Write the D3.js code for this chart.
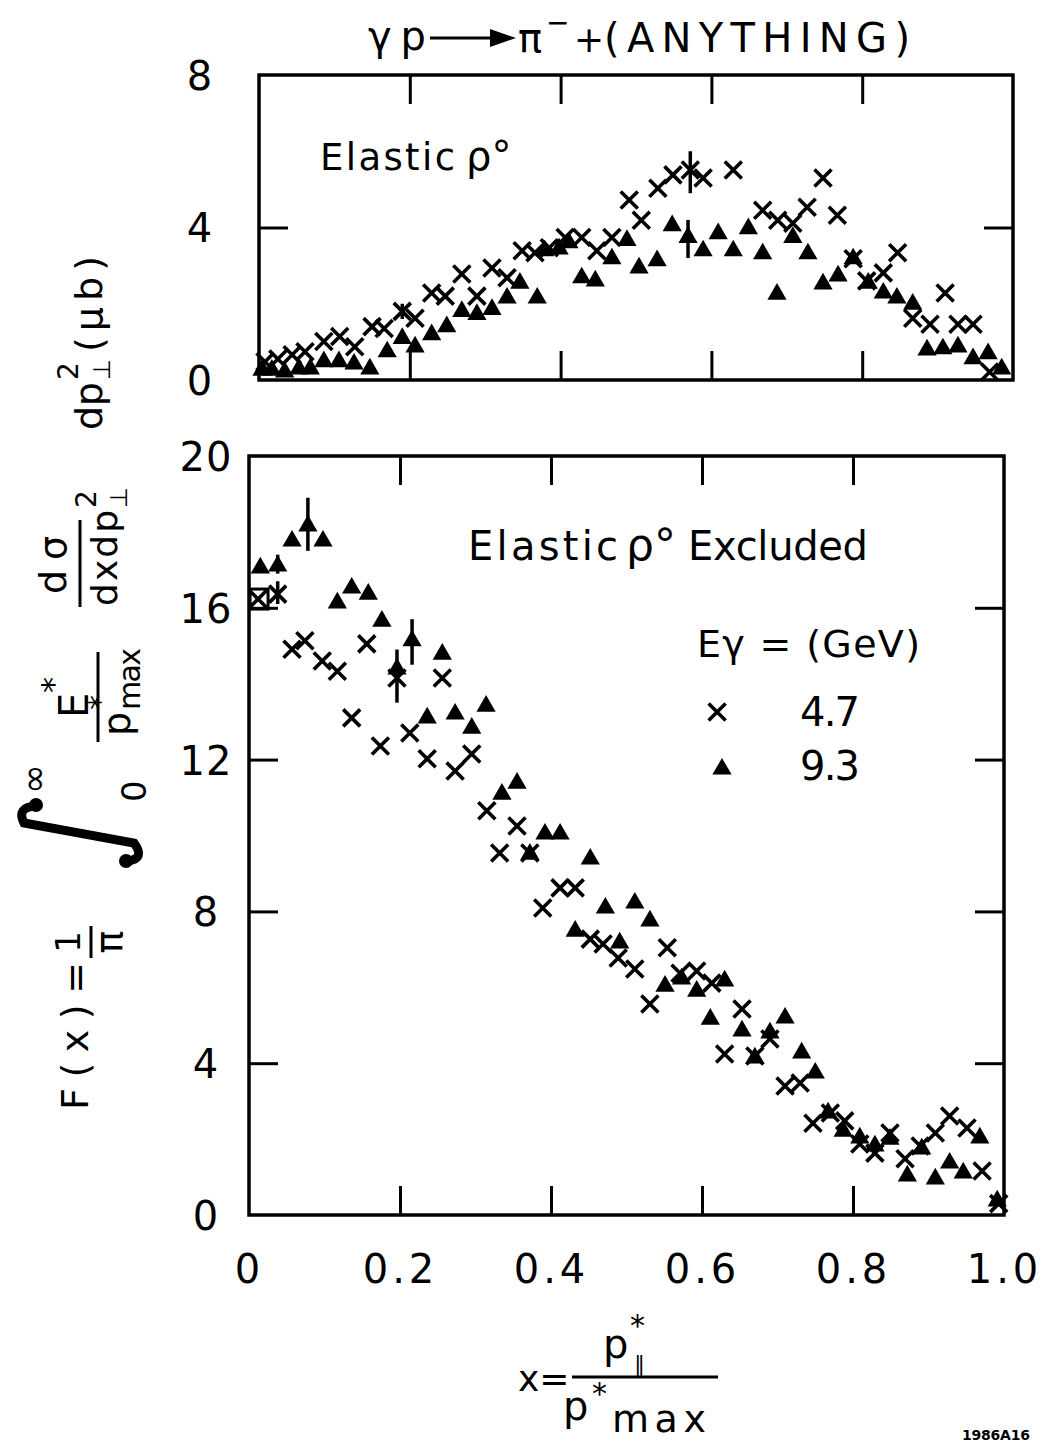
<!DOCTYPE html>
<html><head><meta charset="utf-8">
<script src="https://cdn.jsdelivr.net/npm/d3@7"></script>
<style>body{margin:0;background:#fff}svg{display:block}</style>
</head><body><svg id="c" width="1043" height="1444"></svg>
<script>
// ---------- data ----------
const xTicks=[0,0.2,0.4,0.6,0.8,1.0];
const xTickLabels=["0","0.2","0.4","0.6","0.8","1.0"];
const topYTicks=[0,4,8];
const botYTicks=[0,4,8,12,16,20];
const seriesNames=["4.7","9.3"];
// top panel: Elastic rho0, [x, value]
const top47=[[0.008,0.48],[0.025,0.55],[0.044,0.66],[0.061,0.74],[0.086,1.01],[0.107,1.14],[0.127,0.87],[0.150,1.40],[0.166,1.35],[0.190,1.80],[0.207,1.62],[0.229,2.28],[0.247,2.20],[0.269,2.78],[0.289,2.20],[0.309,2.94],[0.329,2.68],[0.349,3.39],[0.366,3.34],[0.385,3.47],[0.406,3.74],[0.428,3.74],[0.448,3.39],[0.468,3.74],[0.491,4.72],[0.507,4.19],[0.529,5.03],[0.549,5.38],[0.572,5.51],[0.589,5.30],[0.629,5.51],[0.668,4.45],[0.688,4.19],[0.708,4.11],[0.727,4.53],[0.748,5.30],[0.767,4.32],[0.788,3.18],[0.806,2.60],[0.828,2.81],[0.847,3.34],[0.867,1.62],[0.890,1.46],[0.910,2.28],[0.927,1.46],[0.947,1.46],[0.969,0.21]];
const top93=[[0.004,0.26],[0.017,0.26],[0.034,0.21],[0.053,0.29],[0.068,0.29],[0.086,0.48],[0.106,0.48],[0.126,0.42],[0.147,0.29],[0.170,0.74],[0.190,1.09],[0.207,0.87],[0.229,1.19],[0.249,1.40],[0.269,1.80],[0.289,1.72],[0.309,1.85],[0.329,2.15],[0.346,2.54],[0.369,2.15],[0.379,3.39],[0.398,3.44],[0.411,3.60],[0.428,2.68],[0.446,2.60],[0.468,3.18],[0.488,3.66],[0.504,2.94],[0.528,3.13],[0.548,4.05],[0.569,3.74],[0.589,3.39],[0.609,3.84],[0.629,3.39],[0.649,3.97],[0.668,3.31],[0.687,2.25],[0.708,3.74],[0.728,3.31],[0.748,2.52],[0.768,2.73],[0.788,3.18],[0.808,2.54],[0.828,2.28],[0.846,2.15],[0.867,1.99],[0.886,0.79],[0.907,0.82],[0.927,0.87],[0.947,0.56],[0.967,0.69],[0.985,0.29]];
// top panel error bars [x, low, high]
const topErr47=[[0.572,4.9,6.0],[0.190,1.6,2.0]];
const topErr93=[[0.569,3.2,4.2]];
// bottom panel: Elastic rho0 excluded
const bot47=[[0.012,16.23],[0.038,16.36],[0.057,14.91],[0.074,15.13],[0.097,14.6],[0.117,14.33],[0.136,13.1],[0.156,15.05],[0.174,12.36],[0.196,14.15],[0.213,12.70],[0.236,12.02],[0.256,14.15],[0.273,11.70],[0.295,12.15],[0.315,10.65],[0.332,9.54],[0.355,10.25],[0.372,9.54],[0.389,8.09],[0.412,8.62],[0.432,8.62],[0.452,7.27],[0.469,7.14],[0.489,6.77],[0.511,6.48],[0.531,5.56],[0.554,7.04],[0.571,6.37],[0.593,6.43],[0.613,6.11],[0.630,4.24],[0.653,5.43],[0.670,4.19],[0.690,4.64],[0.710,3.40],[0.730,3.48],[0.747,2.42],[0.770,2.69],[0.789,2.48],[0.809,1.87],[0.829,1.63],[0.849,2.16],[0.869,1.48],[0.889,1.82],[0.909,2.16],[0.928,2.61],[0.951,2.29],[0.971,1.16],[0.993,0.30]];
const bot93=[[0.015,17.05],[0.038,17.1],[0.057,17.76],[0.078,18.16],[0.098,17.76],[0.117,16.13],[0.136,16.52],[0.158,16.36],[0.176,15.65],[0.196,14.39],[0.216,15.13],[0.236,13.10],[0.256,14.78],[0.273,13.2],[0.295,12.83],[0.314,13.41],[0.335,11.09],[0.355,11.38],[0.372,9.51],[0.392,10.04],[0.412,10.04],[0.432,7.48],[0.452,9.38],[0.472,8.09],[0.491,7.17],[0.511,8.22],[0.531,7.75],[0.551,6.03],[0.573,6.22],[0.593,5.90],[0.611,5.16],[0.630,6.17],[0.653,4.85],[0.670,4.14],[0.690,4.80],[0.710,5.19],[0.732,4.27],[0.750,3.74],[0.767,2.69],[0.787,2.21],[0.809,2.03],[0.829,1.82],[0.849,2.0],[0.872,1.03],[0.891,1.74],[0.909,0.95],[0.928,1.37],[0.946,1.11],[0.968,2.03],[0.991,0.37]];
const botErr47=[[0.038,16.1,16.7],[0.196,13.5,14.9]];
const botErr93=[[0.038,16.9,17.4],[0.078,17.5,18.9],[0.216,14.5,15.7]];
const botBox47=[[0.012,16.23]];

// ---------- drawing ----------
const svg=d3.select("#c");
const FONT="'DejaVu Sans', sans-serif";
svg.append("rect").attr("width",1043).attr("height",1444).attr("fill","#fff");

const tx=d3.scaleLinear().domain([0,1]).range([259,1013]);
const ty=d3.scaleLinear().domain([0,8]).range([380,75]);
const bx=d3.scaleLinear().domain([0,1]).range([249,1004]);
const by=d3.scaleLinear().domain([0,20]).range([1215,456]);

function panel(x,y,yTicks,xLabels,labelCenter){
  const g=svg.append("g");
  const [x0,x1]=x.range(), [y0,y1]=[y(y.domain()[1]), y(0)];
  const inner=xTicks.filter(v=>v>0&&v<1);
  const innerY=yTicks.filter(v=>v>y.domain()[0]&&v<y.domain()[1]);
  g.append("g").attr("transform",`translate(0,${y1})`).call(d3.axisBottom(x).tickValues(inner).tickSize(-29).tickFormat(""));
  g.append("g").attr("transform",`translate(0,${y0})`).call(d3.axisTop(x).tickValues(inner).tickSize(-29).tickFormat(""));
  g.append("g").attr("transform",`translate(${x0},0)`).call(d3.axisLeft(y).tickValues(innerY).tickSize(-29).tickFormat(""));
  g.append("g").attr("transform",`translate(${x1},0)`).call(d3.axisRight(y).tickValues(innerY).tickSize(-29).tickFormat(""));
  const yl=g.append("g").attr("transform",`translate(${x0},0)`).call(d3.axisLeft(y).tickValues(yTicks).tickSize(0));
  yl.selectAll("text").attr("x",labelCenter-x0).attr("text-anchor","middle").attr("dy","0.36em")
    .attr("font-size",40).attr("font-family",FONT).attr("letter-spacing",1).attr("fill","#000");
  if(xLabels){
    const xl=g.append("g").attr("transform",`translate(0,${y1})`).call(d3.axisBottom(x).tickValues(xTicks).tickSize(0).tickFormat((d,i)=>xTickLabels[i]));
    xl.selectAll("text").attr("y",68).attr("dy",0).attr("font-size",40).attr("font-family",FONT).attr("letter-spacing",4).attr("fill","#000");
  }
  g.selectAll(".tick line").attr("stroke","#000").attr("stroke-width",3);
  g.selectAll(".domain").remove();
  g.append("rect").attr("x",x0).attr("y",y0).attr("width",x1-x0).attr("height",y1-y0)
    .attr("fill","none").attr("stroke","#000").attr("stroke-width",3.5);
  return g;
}
panel(tx,ty,topYTicks,false,200);
panel(bx,by,botYTicks,true,206);

const cr=8.5;
function crosses(g,data,x,y){
  g.selectAll(null).data(data).join("path")
    .attr("d",d=>{const px=x(d[0]),py=y(d[1]);return `M${px-cr},${py-cr}L${px+cr},${py+cr}M${px-cr},${py+cr}L${px+cr},${py-cr}`;})
    .attr("stroke","#000").attr("stroke-width",3.6).attr("fill","none");
}
const tri=d3.symbol().type(d3.symbolTriangle).size(160);
function triangles(g,data,x,y){
  g.selectAll(null).data(data).join("path")
    .attr("transform",d=>`translate(${x(d[0])},${y(d[1])})`).attr("d",tri()).attr("fill","#000");
}
function errs(g,data,x,y){
  g.selectAll(null).data(data).join("line")
    .attr("x1",d=>x(d[0])).attr("x2",d=>x(d[0])).attr("y1",d=>y(d[1])).attr("y2",d=>y(d[2]))
    .attr("stroke","#000").attr("stroke-width",3.5);
}
const gm=svg.append("g");
crosses(gm.append("g"),top47,tx,ty); triangles(gm.append("g"),top93,tx,ty);
errs(gm.append("g"),topErr47,tx,ty); errs(gm.append("g"),topErr93,tx,ty);
crosses(gm.append("g"),bot47,bx,by); triangles(gm.append("g"),bot93,bx,by);
errs(gm.append("g"),botErr47,bx,by); errs(gm.append("g"),botErr93,bx,by);
gm.append("g").selectAll(null).data(botBox47).join("rect")
  .attr("x",d=>bx(d[0])-8).attr("y",d=>by(d[1])-10).attr("width",18).attr("height",20)
  .attr("fill","none").attr("stroke","#000").attr("stroke-width",3);

// ---------- text ----------
function T(x,y,s,size,opt={}){
  const t=svg.append("text").attr("x",x).attr("y",y).attr("font-size",size).attr("font-family",FONT).attr("fill","#000").text(s);
  if(opt.anchor)t.attr("text-anchor",opt.anchor);
  if(opt.len)t.attr("textLength",opt.len).attr("lengthAdjust","spacing");
  if(opt.weight)t.attr("font-weight",opt.weight);
  return t;
}
function C(parts,parent){
  const t=(parent||svg).append("text").attr("font-family",FONT).attr("fill","#000");
  parts.forEach(p=>{
    const s=t.append("tspan").attr("x",p[0]).attr("y",p[1]).attr("font-size",p[3]).text(p[2]);
    if(p[4])s.attr("textLength",p[4]).attr("lengthAdjust","spacing");
  });
  return t;
}
// title
svg.append("line").attr("x1",430).attr("x2",498).attr("y1",38).attr("y2",38).attr("stroke","#000").attr("stroke-width",3);
svg.append("path").attr("d","M490,29L516,38L490,47Z").attr("fill","#000");
C([[368,50,"γp",40,58],[518,52,"π",40],[546,32,"−",28],[574,52,"+",36],[604,52,"(ANYTHING)",40,306]]);
// panel labels
C([[320,170,"Elastic",37,135],[466,170,"ρ°",40]]);
C([[468,560,"Elastic",40,150],[626,560,"ρ°",44],[688,560,"Excluded",40,180]]);
// legend
T(697,657,"Eγ = (GeV)",38,{len:223});
crosses(svg.append("g"),[[0.62,0]],d3.scaleLinear().domain([0,1]).range([249,1004]),()=>712);
T(800,726,seriesNames[0],40,{len:60});
svg.append("path").attr("transform","translate(722,769)").attr("d",tri()).attr("fill","#000");
T(800,780,seriesNames[1],40,{len:60});
// x axis title
T(518,1391,"x=",36);
svg.append("line").attr("x1",572).attr("x2",718).attr("y1",1377).attr("y2",1377).attr("stroke","#000").attr("stroke-width",3);
C([[603,1358,"p",40],[630,1336,"*",30],[634,1372,"∥",22]]);
C([[563,1420,"p",40],[592,1404,"*",30],[612,1432,"max",38,94]]);
// id
T(962,1440,"1986A16",14,{weight:"bold",len:68});

// rotated y-axis label: local (lx,ly) = (-screenY, screenX)
const gy=svg.append("g").attr("transform","rotate(-90)");
function R(Y,X,s,size,opt={}){
  const t=gy.append("text").attr("x",-Y).attr("y",X).attr("font-size",size).attr("font-family",FONT).attr("fill","#000").text(s);
  if(opt.len)t.attr("textLength",opt.len).attr("lengthAdjust","spacing");
  if(opt.anchor)t.attr("text-anchor",opt.anchor);
  return t;
}
R(1110,88,"F(x)=",38,{len:148});
R(942,80,"1",34,{anchor:"middle"});
gy.append("line").attr("x1",-958).attr("x2",-926).attr("y1",91).attr("y2",91).attr("stroke","#000").attr("stroke-width",3);
R(942,122,"π",38,{anchor:"middle"});
// integral sign
svg.append("path").attr("d","M36,806 Q16,807 24,823 L134,843 Q146,859 127,861")
  .attr("fill","none").attr("stroke","#000").attr("stroke-width",9).attr("stroke-linecap","round");
svg.append("circle").attr("cx",36).attr("cy",805).attr("r",7);
svg.append("circle").attr("cx",126).attr("cy",861).attr("r",7);
R(794,46,"∞",36);
R(802,146,"0",34);
// E*/p*max
R(718,88,"E",40);
R(693,64,"*",32);
gy.append("line").attr("x1",-742).attr("x2",-652).attr("y1",98).attr("y2",98).attr("stroke","#000").attr("stroke-width",3);
R(736,130,"p",38);
R(710,110,"*",30);
R(710,140,"max",30,{len:62});
// dσ/dxdp⊥²
R(594,66,"dσ",38,{len:58});
gy.append("line").attr("x1",-607).attr("x2",-520).attr("y1",80).attr("y2",80).attr("stroke","#000").attr("stroke-width",3);
R(606,117,"dxdp",36,{len:96});
R(508,96,"2",28);
R(508,127,"⊥",24);
// dp⊥² (μb)
R(430,102,"dp",38,{len:48});
R(380,78,"2",28);
R(380,110,"⊥",24);
R(352,102,"(μb)",38,{len:96});
</script></body></html>
